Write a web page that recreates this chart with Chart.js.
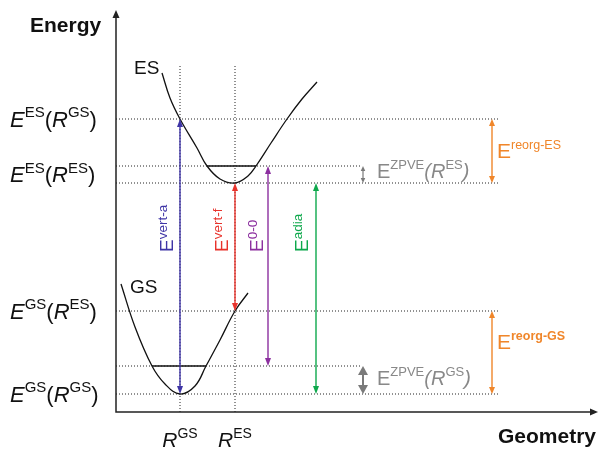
<!DOCTYPE html>
<html>
<head>
<meta charset="utf-8">
<script src="https://cdn.jsdelivr.net/npm/chart.js@4/dist/chart.umd.min.js"></script>
<style>
  html, body { margin: 0; padding: 0; background: #fff; }
  #wrap { width: 599px; height: 449px; }
</style>
</head>
<body>
<div id="wrap"><canvas id="c"></canvas></div>
<script>
// Energy levels (arbitrary units, ground-state minimum = 0)
const levelNames = ['GS@RGS', 'GS ZPVE', 'GS@RES', 'ES@RES', 'ES ZPVE', 'ES@RGS'];
const levelEnergies = [0, 2.8, 8.3, 21.1, 22.8, 27.5];

// Equilibrium geometries of both states
const geometryNames = ['GS', 'ES'];
const geometryValues = [6.4, 11.9];

// Potential energy curves
const gsCurveR = [0.5, 1.9, 3.6, 4.9, 6.4, 7.9, 9.0, 10.4, 11.9, 13.2];
const gsCurveE = [11.0, 6.7, 2.8, 1.0, 0, 0.8, 2.8, 5.4, 8.3, 10.1];
const esCurveR = [4.6, 5.4, 6.4, 8.1, 9.1, 10.4, 11.9, 13.2, 14.0, 15.5, 17.1, 18.6, 20.1];
const esCurveE = [32.1, 29.6, 27.5, 24.6, 22.8, 21.5, 21.1, 21.8, 22.8, 25.1, 27.5, 29.5, 31.2];

// Zero-point vibrational levels (turning points)
const gsZpveR = [3.6, 9.0];
const esZpveR = [9.1, 14.0];

// Transitions between the two curves
const transitionNames = ['vert-a', 'vert-f', '0-0', 'adia'];
const transitionR = [6.4, 11.9, 15.2, 20.0];
const transitionLow = ['GS@RGS', 'GS@RES', 'GS ZPVE', 'GS@RGS'];
const transitionHigh = ['ES@RGS', 'ES@RES', 'ES ZPVE', 'ES@RES'];

// Energy differences marked on the right
const gapNames = ['reorg-ES', 'reorg-GS', 'ZPVE-ES', 'ZPVE-GS'];
const gapR = [37.6, 37.6, 24.7, 24.7];
const gapLow = ['ES@RES', 'GS@RGS', 'ES@RES', 'GS@RGS'];
const gapHigh = ['ES@RGS', 'GS@RES', 'ES ZPVE', 'GS ZPVE'];

const lvl = name => levelEnergies[levelNames.indexOf(name)];

const FONT = '"Liberation Sans", Arial, Helvetica, sans-serif';
const DOT = '#222';

// ---- datasets ---------------------------------------------------------
const datasets = [];
const mainLevels = ['GS@RGS', 'GS@RES', 'ES@RES', 'ES@RGS'];
levelNames.forEach(n => {
  const end = mainLevels.includes(n) ? 38.3 : 24.4;
  datasets.push({
    data: [{ x: 0, y: lvl(n) }, { x: end, y: lvl(n) }],
    borderColor: DOT, borderWidth: 1, borderDash: [1, 2], showLine: true, pointRadius: 0
  });
});
geometryValues.forEach(r => {
  datasets.push({
    data: [{ x: r, y: -1.8 }, { x: r, y: 32.9 }],
    borderColor: DOT, borderWidth: 1, borderDash: [1, 2], showLine: true, pointRadius: 0
  });
});
datasets.push({
  data: gsZpveR.map(r => ({ x: r, y: lvl('GS ZPVE') })),
  borderColor: '#111', borderWidth: 1.3, showLine: true, pointRadius: 0
});
datasets.push({
  data: esZpveR.map(r => ({ x: r, y: lvl('ES ZPVE') })),
  borderColor: '#111', borderWidth: 1.3, showLine: true, pointRadius: 0
});
datasets.push({
  data: gsCurveR.map((r, i) => ({ x: r, y: gsCurveE[i] })),
  borderColor: '#111', borderWidth: 1.3, showLine: true, pointRadius: 0, tension: 0.4
});
datasets.push({
  data: esCurveR.map((r, i) => ({ x: r, y: esCurveE[i] })),
  borderColor: '#111', borderWidth: 1.3, showLine: true, pointRadius: 0, tension: 0.4
});

// ---- drawing helpers ---------------------------------------------------
function head(ctx, x, tipY, dir, hl, hw) {
  ctx.beginPath();
  ctx.moveTo(x, tipY);
  ctx.lineTo(x - hw / 2, tipY - dir * hl);
  ctx.lineTo(x + hw / 2, tipY - dir * hl);
  ctx.closePath();
  ctx.fill();
}
function vArrow(ctx, x, yLow, yHigh, st) {
  ctx.save();
  ctx.strokeStyle = st.color; ctx.fillStyle = st.color; ctx.lineWidth = st.lw;
  ctx.beginPath();
  ctx.moveTo(x, yLow - st.hl * 0.7);
  ctx.lineTo(x, yHigh + st.hl * 0.7);
  ctx.stroke();
  head(ctx, x, yHigh, -1, st.hl, st.hw);
  head(ctx, x, yLow, 1, st.hl, st.hw);
  ctx.restore();
}
// parts: [text, kind] ; kind: 'i' italic, 'n' normal, 's' superscript, 'sb' bold superscript, 'b' bold
function rich(ctx, x, y, parts, st, align) {
  const fontOf = k => {
    if (k === 's') return `${st.sup}px ${FONT}`;
    if (k === 'sb') return `bold ${st.sup}px ${FONT}`;
    if (k === 'i') return `italic ${st.size}px ${FONT}`;
    if (k === 'b') return `bold ${st.size}px ${FONT}`;
    return `${st.size}px ${FONT}`;
  };
  let w = 0;
  parts.forEach(([t, k]) => { ctx.font = fontOf(k); w += ctx.measureText(t).width; });
  let cx = align === 'center' ? x - w / 2 : align === 'right' ? x - w : x;
  ctx.fillStyle = st.color;
  ctx.textBaseline = 'alphabetic';
  ctx.textAlign = 'left';
  parts.forEach(([t, k]) => {
    ctx.font = fontOf(k);
    const up = (k === 's' || k === 'sb') ? st.rise : 0;
    ctx.fillText(t, cx, y - up);
    cx += ctx.measureText(t).width;
  });
}

const transitionColors = ['#3f35a6', '#e8332c', '#8c2f9f', '#0ea84c'];
const transitionLabelDx = [-7, -7, -5, -8];
const gapStyles = [
  { color: '#f0862a', lw: 1.4, hl: 7, hw: 6 },
  { color: '#f0862a', lw: 1.4, hl: 7, hw: 6 },
  { color: '#7a7a7a', lw: 1.2, hl: 5, hw: 4.5 },
  { color: '#7a7a7a', lw: 2, hl: 9, hw: 10 }
];
const orangeFont = { size: 21, sup: 12.5, rise: 9 };
const grayFont = { size: 20, sup: 13, rise: 9 };
const gapText = [
  { parts: [['E', 'n'], ['reorg-ES', 's']], color: '#f0862a', f: orangeFont, dx: 5, dy: 7 },
  { parts: [['E', 'n'], ['reorg-GS', 'sb']], color: '#f0862a', f: orangeFont, dx: 5, dy: -3.5 },
  { parts: [['E', 'n'], ['ZPVE', 's'], ['(', 'i'], ['R', 'i'], ['ES', 's'], [')', 'i']], color: '#888', f: grayFont, dx: 14, dy: 3.5 },
  { parts: [['E', 'n'], ['ZPVE', 's'], ['(', 'i'], ['R', 'i'], ['GS', 's'], [')', 'i']], color: '#888', f: grayFont, dx: 14, dy: 5 }
];

const diagram = {
  id: 'diagram',
  afterDatasetsDraw(chart) {
    const { ctx, chartArea: a } = chart;
    const X = v => chart.scales.x.getPixelForValue(v);
    const Y = v => chart.scales.y.getPixelForValue(v);

    // transition arrows and their labels
    transitionNames.forEach((n, i) => {
      const x = X(transitionR[i]);
      vArrow(ctx, x, Y(lvl(transitionLow[i])), Y(lvl(transitionHigh[i])),
        { color: transitionColors[i], lw: 1.4, hl: 8, hw: 6 });
      ctx.save();
      ctx.translate(x + transitionLabelDx[i], Y(14.2));
      ctx.rotate(-Math.PI / 2);
      rich(ctx, 0, 0, [['E', 'n'], [n, 's']],
        { size: 19, sup: 13.5, rise: 6, color: transitionColors[i] }, 'left');
      ctx.restore();
    });

    // energy differences on the right
    gapNames.forEach((n, i) => {
      const x = X(gapR[i]);
      const y1 = Y(lvl(gapLow[i])), y2 = Y(lvl(gapHigh[i]));
      vArrow(ctx, x, y1, y2, gapStyles[i]);
      const g = gapText[i];
      rich(ctx, x + g.dx, (y1 + y2) / 2 + g.dy, g.parts,
        { size: g.f.size, sup: g.f.sup, rise: g.f.rise, color: g.color }, 'left');
    });

    // axes with arrowheads
    ctx.save();
    ctx.strokeStyle = '#222'; ctx.fillStyle = '#222'; ctx.lineWidth = 1.5;
    ctx.beginPath();
    ctx.moveTo(a.left, a.top + 6); ctx.lineTo(a.left, a.bottom);
    ctx.lineTo(a.right - 6, a.bottom);
    ctx.stroke();
    head(ctx, a.left, a.top, -1, 8, 7);
    ctx.beginPath();
    ctx.moveTo(a.right, a.bottom);
    ctx.lineTo(a.right - 8, a.bottom - 3.5);
    ctx.lineTo(a.right - 8, a.bottom + 3.5);
    ctx.closePath(); ctx.fill();
    ctx.restore();

    // axis titles
    const bold = { size: 21, sup: 14, rise: 9, color: '#111' };
    rich(ctx, 30, 32, [['Energy', 'b']], bold, 'left');
    rich(ctx, 596, 443, [['Geometry', 'b']], bold, 'right');

    // level labels on the energy axis
    const yl = { size: 22, sup: 15, rise: 9.5, color: '#111' };
    const levelLabels = [
      { at: lvl('ES@RGS'), parts: [['E', 'i'], ['ES', 's'], ['(', 'n'], ['R', 'i'], ['GS', 's'], [')', 'n']] },
      { at: (lvl('ES@RES') + lvl('ES ZPVE')) / 2, parts: [['E', 'i'], ['ES', 's'], ['(', 'n'], ['R', 'i'], ['ES', 's'], [')', 'n']] },
      { at: lvl('GS@RES'), parts: [['E', 'i'], ['GS', 's'], ['(', 'n'], ['R', 'i'], ['ES', 's'], [')', 'n']] },
      { at: lvl('GS@RGS'), parts: [['E', 'i'], ['GS', 's'], ['(', 'n'], ['R', 'i'], ['GS', 's'], [')', 'n']] }
    ];
    levelLabels.forEach(l => rich(ctx, 10, Y(l.at) + 7.5, l.parts, yl, 'left'));

    // geometry labels
    const gl = { size: 21, sup: 14, rise: 9, color: '#111' };
    geometryNames.forEach((n, i) => {
      rich(ctx, X(geometryValues[i]), 447, [['R', 'i'], [n, 's']], gl, 'center');
    });

    // curve names
    const cn = { size: 19, sup: 13, rise: 8, color: '#111' };
    rich(ctx, X(esCurveR[0]) - 28, Y(esCurveE[0]) + 1, [['ES', 'n']], cn, 'left');
    rich(ctx, X(gsCurveR[0]) + 9, Y(gsCurveE[0]) + 9, [['GS', 'n']], cn, 'left');
  }
};

new Chart(document.getElementById('c'), {
  type: 'scatter',
  data: { datasets },
  options: {
    responsive: true,
    maintainAspectRatio: false,
    animation: false,
    events: [],
    layout: { padding: { left: 116, top: 10, right: 1, bottom: 37 } },
    plugins: { legend: { display: false }, tooltip: { enabled: false } },
    scales: {
      x: { type: 'linear', min: 0, max: 48.2, display: false },
      y: { type: 'linear', min: -1.8, max: 38.4, display: false }
    }
  },
  plugins: [diagram]
});
</script>
</body>
</html>
